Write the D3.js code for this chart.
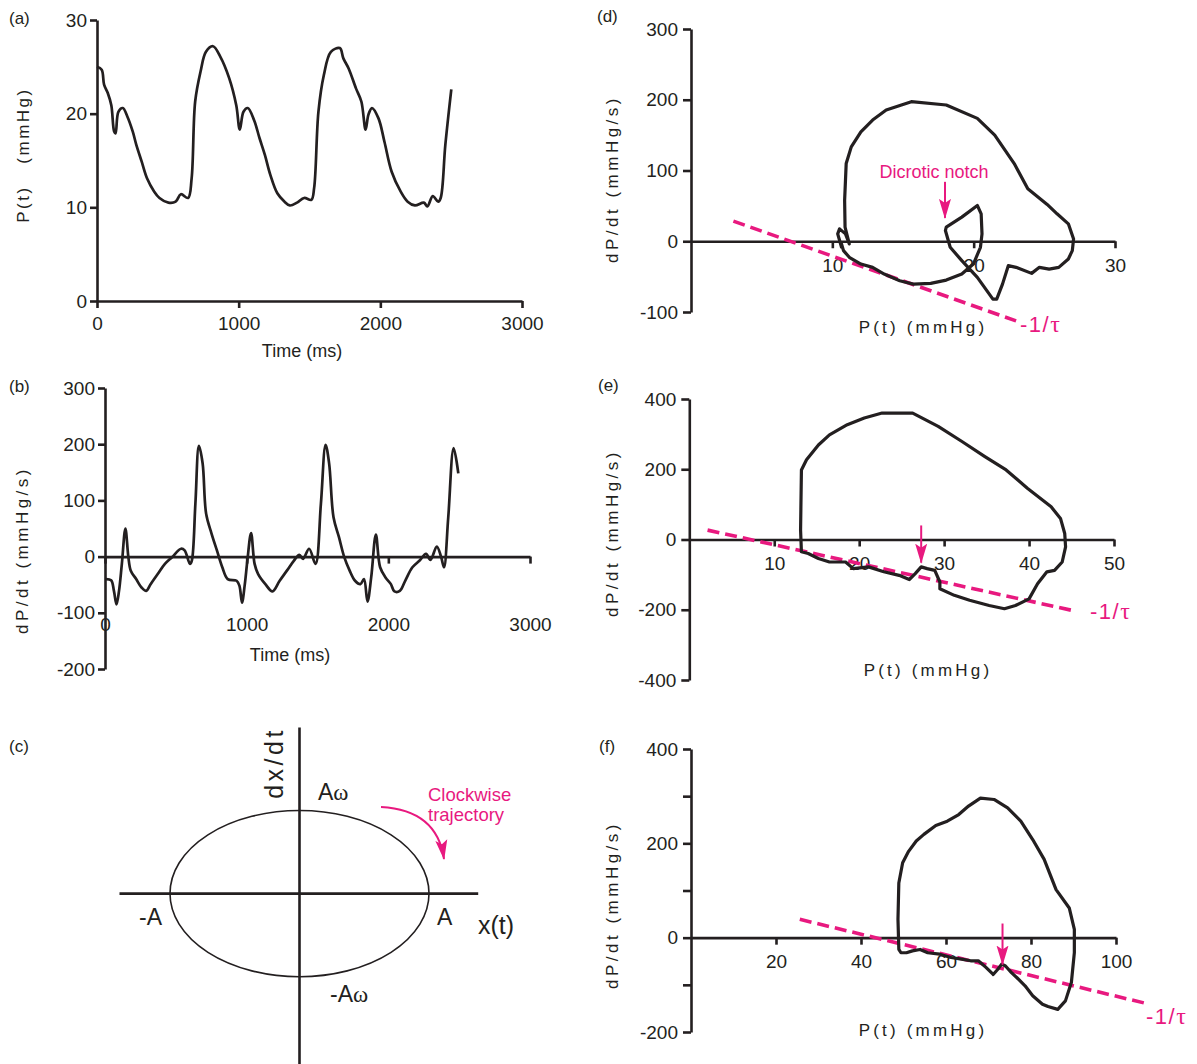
<!DOCTYPE html>
<html>
<head>
<meta charset="utf-8">
<script src="https://cdn.jsdelivr.net/npm/d3@7"></script>
<style>
  body { margin: 0; background: #fff; }
  svg { display: block; }
</style>
</head>
<body>
<svg id="fig" width="1197" height="1064"></svg>
<script>
// ---------------- DATA ----------------
// (a) pressure vs time
const timeA = [0,33,50,76,101,121,131,151,182,214,252,277,315,353,403,441,504,555,592,643,668,693,731,769,819,870,933,983,1008,1034,1064,1109,1147,1185,1223,1273,1324,1361,1412,1462,1513,1533,1563,1601,1651,1714,1739,1777,1828,1866,1896,1916,1941,1987,2029,2080,2143,2193,2244,2307,2332,2370,2408,2426,2459,2501];
const pressureA = [25.0,24.7,23.1,22.2,20.9,18.1,17.9,20.2,20.6,19.7,18.1,16.7,14.9,13.1,11.7,11.0,10.5,10.6,11.4,11.0,13.1,21.3,24.5,26.6,27.2,26.1,23.8,20.9,18.3,20.2,20.6,19.3,17.4,15.6,13.5,11.5,10.6,10.2,10.5,11.0,10.8,12.1,20.2,24.1,26.6,27.0,25.9,24.8,22.7,21.3,18.3,19.9,20.6,19.5,17.0,13.8,11.7,10.6,10.2,10.5,10.1,11.2,10.6,11.0,16.7,22.6];
const ticksAy = [0,10,20,30];
const ticksAx = [0,1000,2000,3000];

// (b) dP/dt vs time
const timeB = [0,43,63,81,99,119,144,165,182,220,258,291,322,372,423,473,537,562,600,613,638,663,689,714,752,790,828,866,929,949,967,987,1005,1031,1056,1081,1132,1182,1233,1284,1334,1372,1398,1441,1486,1524,1557,1582,1613,1651,1689,1727,1765,1803,1828,1853,1879,1912,1942,1980,2018,2043,2081,2119,2170,2221,2266,2297,2342,2373,2393,2423,2461,2494];
const dpdtB = [-40,-42,-61,-85,-61,-13,50,-1,-25,-40,-55,-61,-49,-31,-13,-1,14,11,-13,-7,94,197,166,76,41,11,-19,-40,-43,-52,-82,-49,-7,42,-13,-31,-49,-62,-43,-25,-7,3,-4,14,-13,94,199,166,70,35,-1,-25,-43,-49,-40,-80,-37,39,-19,-37,-49,-62,-61,-43,-19,-7,5,-6,18,-1,-19,70,193,148];
const ticksBy = [-200,-100,0,100,200,300];
const ticksBx = [0,1000,2000,3000];

// (c) schematic labels
const labelsC = { xAxis: "x(t)", yAxis: "dx/dt", pos: "A", neg: "-A" };

// (d) phase loop
const loopD_P  = [10.65,10.38,10.51,10.93,11.2,10.9,10.87,10.98,11.34,12.02,12.85,13.81,15.59,18.06,20.26,21.49,22.87,23.83,25.2,25.9,26.7,27.07,26.98,26.7,26.02,25.34,24.65,24.1,23.0,22.45,22.04,21.63,21.36,20.26,19.16,18.34,18.0,18.06,19.16,20.26,20.53,20.59,20.48,19.98,19.16,18.06,16.96,15.73,14.77,13.67,12.85,12.02,11.2,10.79,10.65];
const loopD_dP = [-8.5,10.4,17.5,10.4,-3.8,20,57.7,109.8,133.4,154.7,171.3,185.5,197.3,192.6,173.7,150,109.8,74.3,52,38.8,24.6,3.3,-13.2,-25.1,-36.9,-39.3,-36.9,-45.4,-36.9,-34.5,-60.6,-81.9,-81.9,-51.1,-27.4,-8.5,15.1,19.9,34.1,50.6,38.8,10.4,-8.5,-32.2,-46.4,-54.9,-59.6,-60.6,-55.8,-46.4,-36.9,-32.2,-22.7,-13.2,-3.8];
const tauD_P = [3.0, 23.0];
const tauD_dP = [28.4, -112.6];
const ticksDx = [10,20,30];
const ticksDy = [-100,0,100,200,300];

// (e) phase loop
const loopE_P  = [13.2,13.1,13.2,13.8,15.2,16.5,18.6,20.6,22.7,26.3,29.3,32.1,34.8,37.3,39.8,42.6,43.7,44.2,44.3,43.9,43.0,42.1,41.0,40.0,38.4,37.1,35.3,33.0,31.2,29.5,29.5,28.9,28.0,27.3,26.6,25.9,24.7,22.9,21.1,19.3,18.4,16.5,15.2,14.0,13.2];
const loopE_dP = [-35,27,198,227,269,298,327,346,360,360,322,279,236,198,146,93,60,17,-21,-64,-88,-92,-126,-169,-188,-197,-188,-173,-159,-140,-121,-88,-83,-78,-97,-114,-102,-92,-78,-83,-64,-64,-54,-40,-35];
const tauE_P = [2.15, 45.1];
const tauE_dP = [26.7, -202];
const ticksEx = [10,20,30,40,50];
const ticksEy = [-400,-200,0,200,400];

// (f) phase loop
const loopF_P  = [48.9,48.7,48.9,49.8,51.2,53.0,54.8,57.6,60.3,63.0,65.3,68.1,71.3,74.5,77.6,80.4,83.1,85.9,89.0,90.2,90.2,89.5,88.1,86.3,84.0,82.7,80.4,78.6,76.7,75.4,74.0,73.1,72.2,71.1,69.4,67.6,65.8,64.0,61.2,58.5,55.7,53.9,52.1,50.7,49.4,48.9];
const loopF_dP = [-24.7,38.8,116,159,183,205,219,238,247,261,279,296,293,275,247,208,166,102,63,17.6,-31.7,-95,-134,-152,-146,-141,-123,-102,-85,-74,-60,-56,-67,-78,-63,-49,-49,-46,-42,-35,-32,-25,-28,-32,-32,-24.7];
const tauF_P = [25.6, 107.8];
const tauF_dP = [38.8, -141];
const ticksFx = [20,40,60,80,100];
const ticksFy = [-200,-100,0,100,200,300,400];
const labelledFy = [-200,0,200,400];

// ---------------- DRAWING ----------------
const INK = "#231f20";
const PINK = "#e8197f";
const FONT = "'Liberation Sans', Arial, Helvetica, sans-serif";
const SERIF = "'Liberation Serif', 'DejaVu Serif', serif";
const TICKFS = 19;
const fmt = d => String(d);

const svg = d3.select("#fig");
const defs = svg.append("defs");
defs.append("marker")
  .attr("id", "ah").attr("viewBox", "0 0 20 12")
  .attr("refX", 19).attr("refY", 6)
  .attr("markerWidth", 20).attr("markerHeight", 13)
  .attr("markerUnits", "userSpaceOnUse").attr("orient", "auto")
  .append("path").attr("d", "M0,0 L20,6 L0,12 L4,6 Z").attr("fill", PINK);

function styleAxis(g) {
  g.attr("font-family", FONT).attr("font-size", TICKFS);
  g.selectAll("path.domain").attr("stroke", INK).attr("stroke-width", 2.6);
  g.selectAll(".tick line").attr("stroke", INK).attr("stroke-width", 2.6);
  g.selectAll(".tick text").attr("fill", INK);
}
function text(x, y, str, opts = {}) {
  const t = svg.append("text").attr("x", x).attr("y", y)
    .attr("font-family", FONT).attr("font-size", opts.size || 17)
    .attr("fill", opts.color || INK)
    .attr("text-anchor", opts.anchor || "start")
    .style("letter-spacing", (opts.ls || 0) + "px")
    .text(str);
  return t;
}
function vlabel(x, y, str, ls, size) {
  svg.append("text").attr("transform", `translate(${x},${y}) rotate(-90)`)
    .attr("font-family", FONT).attr("font-size", size || 17).attr("fill", INK)
    .attr("text-anchor", "middle").style("letter-spacing", ls + "px")
    .text(str);
}

// ---- (a)
const xA = d3.scaleLinear().domain([0,3000]).range([97,522]);
const yA = d3.scaleLinear().domain([0,30]).range([301,20]);
styleAxis(svg.append("g").attr("transform", `translate(${xA(0)},0)`)
  .call(d3.axisLeft(yA).tickValues(ticksAy).tickFormat(fmt).tickSize(7).tickPadding(3).tickSizeOuter(0)));
styleAxis(svg.append("g").attr("transform", `translate(0,${yA(0)})`)
  .call(d3.axisBottom(xA).tickValues(ticksAx).tickFormat(fmt).tickSize(7).tickPadding(9).tickSizeOuter(0)));
svg.append("path")
  .attr("d", d3.line().x((d,i)=>xA(timeA[i])).y(d=>yA(d)).curve(d3.curveCatmullRom.alpha(0.5))(pressureA))
  .attr("fill","none").attr("stroke",INK).attr("stroke-width",2.7).attr("stroke-linejoin","round");
text(9, 24, "(a)", {size: 17});
vlabel(29, 155, "P(t)\u00a0\u00a0\u00a0(mmHg)", 2.5, 17);
text(302, 357, "Time (ms)", {anchor: "middle", size: 18});

// ---- (b)
const xB = d3.scaleLinear().domain([0,3000]).range([105,530]);
const yB = d3.scaleLinear().domain([-200,300]).range([669,388]);
styleAxis(svg.append("g").attr("transform", `translate(${xB(0)},0)`)
  .call(d3.axisLeft(yB).tickValues(ticksBy).tickFormat(fmt).tickSize(7).tickPadding(3).tickSizeOuter(0)));
styleAxis(svg.append("g").attr("transform", `translate(0,${yB(0)})`)
  .call(d3.axisBottom(xB).tickValues(ticksBx).tickFormat(fmt).tickSize(7).tickPadding(54).tickSizeOuter(0)));
svg.append("path")
  .attr("d", d3.line().x((d,i)=>xB(timeB[i])).y(d=>yB(d)).curve(d3.curveCatmullRom.alpha(0.5))(dpdtB))
  .attr("fill","none").attr("stroke",INK).attr("stroke-width",2.7).attr("stroke-linejoin","round");
text(9, 392, "(b)", {size: 17});
vlabel(28, 550, "dP/dt\u00a0(mmHg/s)", 3.5, 17);
text(290, 661, "Time (ms)", {anchor: "middle", size: 18});

// ---- (c)
const xC = d3.scaleLinear().domain([-1,1]).range([170,429]);
const yC = d3.scaleLinear().domain([-1,1]).range([976.7,810.5]);
svg.append("line").attr("x1", xC(-1.39)).attr("x2", xC(1.38)).attr("y1", yC(0)).attr("y2", yC(0))
  .attr("stroke", INK).attr("stroke-width", 2.6);
svg.append("line").attr("x1", xC(0)).attr("x2", xC(0)).attr("y1", yC(2.0)).attr("y2", yC(-2.1))
  .attr("stroke", INK).attr("stroke-width", 2.6);
svg.append("ellipse").attr("cx", xC(0)).attr("cy", yC(0))
  .attr("rx", xC(1) - xC(0)).attr("ry", yC(0) - yC(1))
  .attr("fill", "none").attr("stroke", INK).attr("stroke-width", 1.6);
text(9, 752, "(c)", {size: 17});
vlabel(283, 763, labelsC.yAxis, 3.5, 25);
const aw = text(318, 800, "A", {size: 23});
aw.append("tspan").attr("font-family", SERIF).text("ω");
const naw = text(330, 1002, "-A", {size: 23});
naw.append("tspan").attr("font-family", SERIF).text("ω");
text(139, 925, labelsC.neg, {size: 23});
text(437, 925, labelsC.pos, {size: 23});
text(478, 934, labelsC.xAxis, {size: 25});
text(428, 801, "Clockwise", {size: 18.5, color: PINK});
text(428, 821, "trajectory", {size: 18.5, color: PINK});
svg.append("path").attr("d", "M381,807 Q437,810 444,859")
  .attr("fill", "none").attr("stroke", PINK).attr("stroke-width", 2)
  .attr("marker-end", "url(#ah)");

// ---- loop panel helper
function loopPanel(cfg) {
  const x = d3.scaleLinear().domain(cfg.xDom).range(cfg.xRange);
  const y = d3.scaleLinear().domain(cfg.yDom).range(cfg.yRange);
  styleAxis(svg.append("g").attr("transform", `translate(${x(0)},0)`)
    .call(d3.axisLeft(y).tickValues(cfg.yTicks).tickSize(8).tickPadding(5).tickSizeOuter(0)
      .tickFormat(d => (cfg.yLabelled ? (cfg.yLabelled.includes(d) ? fmt(d) : "") : fmt(d)))));
  styleAxis(svg.append("g").attr("transform", `translate(0,${y(0)})`)
    .call(d3.axisBottom(x).tickValues(cfg.xTicks).tickFormat(fmt).tickSize(7).tickPadding(10).tickSizeOuter(0)));
  // tau line
  svg.append("path")
    .attr("d", d3.line().x((d,i)=>x(cfg.tauP[i])).y(d=>y(d))(cfg.tauD))
    .attr("fill","none").attr("stroke",PINK).attr("stroke-width",3.6)
    .attr("stroke-dasharray","12,6");
  // loop
  svg.append("path")
    .attr("d", d3.line().x((d,i)=>x(cfg.P[i])).y(d=>y(d)).curve(d3.curveLinearClosed)(cfg.dP))
    .attr("fill","none").attr("stroke",INK).attr("stroke-width",3.2).attr("stroke-linejoin","round");
  // notch arrow
  svg.append("line")
    .attr("x1", x(cfg.arrow[0])).attr("x2", x(cfg.arrow[0]))
    .attr("y1", y(cfg.arrow[1])).attr("y2", y(cfg.arrow[2]))
    .attr("stroke", PINK).attr("stroke-width", 2).attr("marker-end", "url(#ah)");
  text(cfg.tag[0], cfg.tag[1], cfg.tag[2], {size: 17});
  vlabel(618, cfg.yLabelY, "dP/dt\u00a0(mmHg/s)", 3.5, 17);
  text(cfg.xLabel[0], cfg.xLabel[1], "P(t)\u00a0(mmHg)", {anchor: "middle", size: 17, ls: 3.2});
  const tl = text(cfg.tauLabel[0], cfg.tauLabel[1], "-1/", {size: 22, color: PINK, ls: 1.5});
  tl.append("tspan").attr("font-family", SERIF).attr("font-size", 24).text("τ");
  return {x, y};
}

loopPanel({
  xDom: [0,30], xRange: [691,1115], yDom: [-100,300], yRange: [312,29],
  xTicks: ticksDx, yTicks: ticksDy, P: loopD_P, dP: loopD_dP,
  tauP: tauD_P, tauD: tauD_dP, arrow: [17.97, 84, 33],
  tag: [597, 22, "(d)"], yLabelY: 179, xLabel: [923, 333], tauLabel: [1020, 332]
});
text(934, 178, "Dicrotic notch", {anchor: "middle", size: 18, color: PINK});

loopPanel({
  xDom: [0,50], xRange: [689.3,1114], yDom: [-400,400], yRange: [680,399],
  xTicks: ticksEx, yTicks: ticksEy, P: loopE_P, dP: loopE_dP,
  tauP: tauE_P, tauD: tauE_dP, arrow: [27.3, 40, -66],
  tag: [598, 391, "(e)"], yLabelY: 533, xLabel: [928, 676], tauLabel: [1090, 619]
});

loopPanel({
  xDom: [0,100], xRange: [691,1116], yDom: [-200,400], yRange: [1032,749],
  xTicks: ticksFx, yTicks: ticksFy, yLabelled: labelledFy, P: loopF_P, dP: loopF_dP,
  tauP: tauF_P, tauD: tauF_dP, arrow: [73.3, 30, -57],
  tag: [599, 752, "(f)"], yLabelY: 905, xLabel: [923, 1036], tauLabel: [1146, 1024]
});
</script>
</body>
</html>
